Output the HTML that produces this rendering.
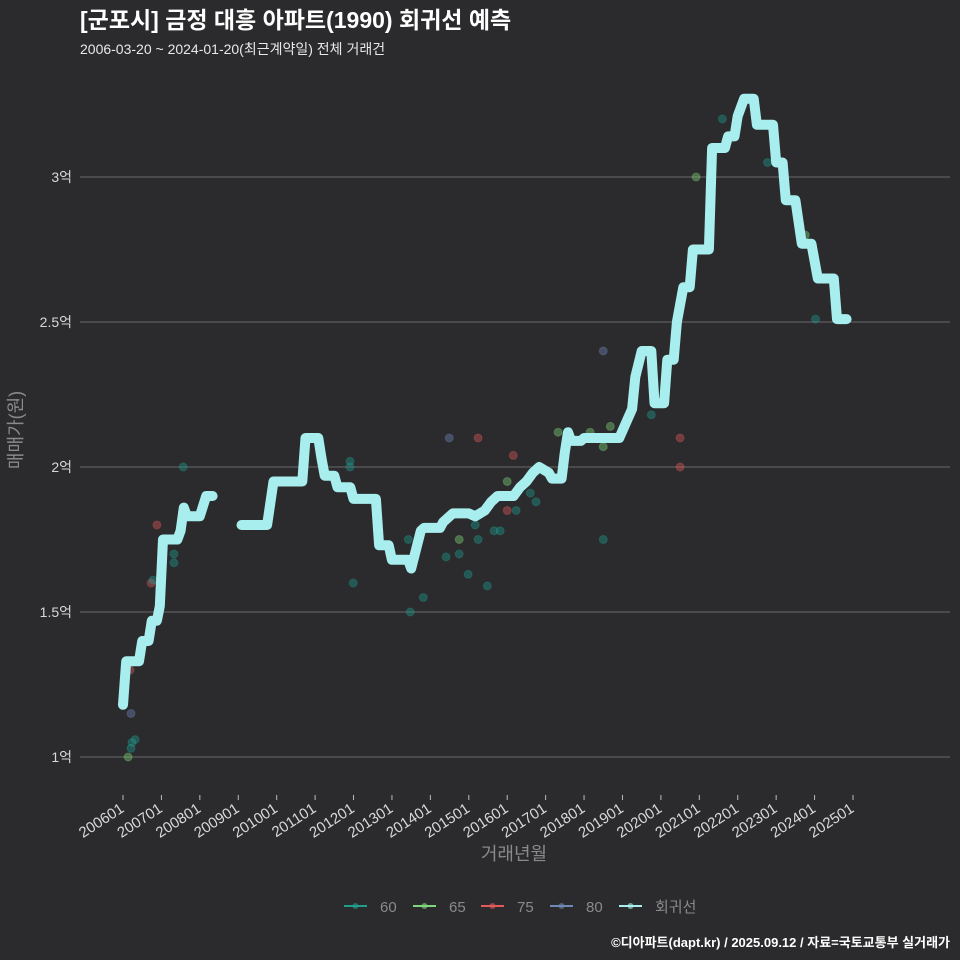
<!DOCTYPE html>
<html><head><meta charset="utf-8"><style>
body{margin:0;background:#2b2b2d;}
svg{display:block;font-family:"Liberation Sans","Noto Sans CJK KR",sans-serif;}
</style></head><body>
<svg id="chart" width="960" height="960" viewBox="0 0 960 960">
<rect width="960" height="960" fill="#2b2b2d"/>
<text x="80" y="28" fill="#ffffff" font-size="23" font-weight="bold">[군포시] 금정 대흥 아파트(1990) 회귀선 예측</text>
<text x="80" y="54" fill="#e8e8e8" font-size="14">2006-03-20 ~ 2024-01-20(최근계약일) 전체 거래건</text>
<g id="grid"></g>
<g id="xaxis"></g>
<g id="points"></g>
<g id="line"></g>
<text transform="translate(22,430) rotate(-90)" text-anchor="middle" fill="#8a8a8a" font-size="18">매매가(원)</text>
<text x="514" y="860" text-anchor="middle" fill="#8a8a8a" font-size="18">거래년월</text>
<g id="legend"></g>
<text x="950" y="947" text-anchor="end" fill="#ffffff" font-size="13" font-weight="bold">©디아파트(dapt.kr) / 2025.09.12 / 자료=국토교통부 실거래가</text>
</svg>
<script>
// data
const yTicks = [1, 1.5, 2, 2.5, 3];
const yTickLabels = ["1억", "1.5억", "2억", "2.5억", "3억"];
const xTickLabels = ["200601","200701","200801","200901","201001","201101","201201","201301","201401","201501","201601","201701","201801","201901","202001","202101","202201","202301","202401","202501"];
// regression line: months since 2006-01, price (억); null = gap
const lineMonths = [0,1,5,6,8,9,10.6,11.5,12.5,17,18,19,20,24,26,28,null,37,45,47,56,57,61,62,63,66,67,71,72,79,80,83,84,89,90,93,94,99,100,103,108,110,113,115,117,122,124,126,128,130,133,134,137,138,139,140,143,144,155,157,159,160,162,165,166,169,170,172,173,175,177,178,183,184,188,189,191,192,194,197,198,203,204,206,207,210,212,215,217,222,223,226];
const lineValues = [1.18,1.33,1.33,1.40,1.40,1.47,1.47,1.52,1.75,1.75,1.78,1.86,1.83,1.83,1.90,1.90,null,1.80,1.80,1.95,1.95,2.10,2.10,2.03,1.97,1.97,1.93,1.93,1.89,1.89,1.73,1.73,1.68,1.68,1.65,1.78,1.79,1.79,1.81,1.84,1.84,1.83,1.85,1.88,1.90,1.90,1.93,1.95,1.98,2.00,1.98,1.96,1.96,2.05,2.12,2.09,2.09,2.10,2.10,2.15,2.20,2.31,2.40,2.40,2.22,2.22,2.37,2.37,2.50,2.62,2.62,2.75,2.75,3.10,3.10,3.14,3.14,3.21,3.27,3.27,3.18,3.18,3.05,3.05,2.92,2.92,2.77,2.77,2.65,2.65,2.51,2.51];
// transactions
const ptMonths = [1.6,2.5,2.8,3.8,2.5,2.2,8.8,9.4,10.6,15.9,15.9,18.8,71.9,70.9,70.9,89.7,93.8,89.1,100.9,101.9,105,105,107.8,110,110.9,110.9,113.8,115.9,117.8,120,120,121.9,122.8,127.2,129,135.9,145.9,150,150,150,152.2,165,174,174,179,187.2,201.3,213.1,216.3];
const ptValues = [1.00,1.03,1.05,1.06,1.15,1.30,1.60,1.61,1.80,1.70,1.67,2.00,1.60,2.00,2.02,1.50,1.55,1.75,1.69,2.10,1.75,1.70,1.63,1.80,2.10,1.75,1.59,1.78,1.78,1.95,1.85,2.04,1.85,1.91,1.88,2.12,2.12,2.40,1.75,2.07,2.14,2.18,2.10,2.00,3.00,3.20,3.05,2.80,2.51];
const ptSizes = ["65","60","60","60","80","75","75","60","75","60","60","60","60","60","60","60","60","60","60","80","65","60","60","60","75","60","60","60","60","65","75","75","60","60","60","65","65","80","60","65","65","60","75","75","65","60","60","65","60"];
const legendLabels = ["60","65","75","80","회귀선"];
const colors = {"60":"#1f9e8e","65":"#80d67a","75":"#e05a5a","80":"#7088b8","회귀선":"#a8eeee"};

const NS = "http://www.w3.org/2000/svg";
const xS = m => 123 + m * (730 / 228);
const yS = v => 757 - (v - 1) * 290;
function mk(tag, attrs, parent){const e=document.createElementNS(NS,tag);for(const k in attrs)e.setAttribute(k,attrs[k]);parent.appendChild(e);return e;}

const grid = document.getElementById('grid');
yTicks.forEach((t,i)=>{
  const l = mk('line',{x1:80,x2:950,y1:yS(t),y2:yS(t),stroke:'#6a6a6a','stroke-width':1},grid);
  
  
  const tx = mk('text',{x:72,y:yS(t)+5,'text-anchor':'end',fill:'#d8d8d8','font-size':14},grid);
  tx.textContent = yTickLabels[i];
  
  
});
const xa = document.getElementById('xaxis');
xTickLabels.forEach((lab,i)=>{
  const x = xS(i*12);
  const tk = mk('line',{x1:x,x2:x,y1:795,y2:800,stroke:'#bbbbbb','stroke-width':1},xa);
  
  
  const tx = mk('text',{transform:`translate(${x+2},811) rotate(-33)`,'text-anchor':'end',fill:'#d8d8d8','font-size':15},xa);
  tx.textContent = lab;
  
  
});
const pg = document.getElementById('points');
ptMonths.forEach((m,i)=>{
  const c = mk('circle',{cx:xS(m),cy:yS(ptValues[i]),r:4,fill:colors[ptSizes[i]],'fill-opacity':0.4,stroke:colors[ptSizes[i]],'stroke-opacity':0.3},pg);
  
  
});
const lg = document.getElementById('line');
let segs=[], cur=[];
lineMonths.forEach((m,i)=>{
  if(m===null||lineValues[i]===null){if(cur.length)segs.push(cur);cur=[];}
  else cur.push(xS(m).toFixed(1)+','+yS(lineValues[i]).toFixed(1));
});
if(cur.length)segs.push(cur);
segs.forEach(s=>{
  const p = mk('polyline',{points:s.join(' '),fill:'none',stroke:'#a8eeee','stroke-width':10,'stroke-linejoin':'round','stroke-linecap':'round'},lg);
  
  
});
const leg = document.getElementById('legend');
const legX = [344,413,481,550,619];
legendLabels.forEach((lab,i)=>{
  const g = mk('g',{},leg);
  
  
  mk('line',{x1:legX[i],x2:legX[i]+23,y1:906,y2:906,stroke:colors[lab],'stroke-width':2},g);
  mk('circle',{cx:legX[i]+11.5,cy:906,r:3,fill:colors[lab],'fill-opacity':0.6},g);
  const t = mk('text',{x:legX[i]+36,y:912,fill:'#8a8a8a','font-size':15},g);
  t.textContent = lab;
});
</script>
</body></html>
